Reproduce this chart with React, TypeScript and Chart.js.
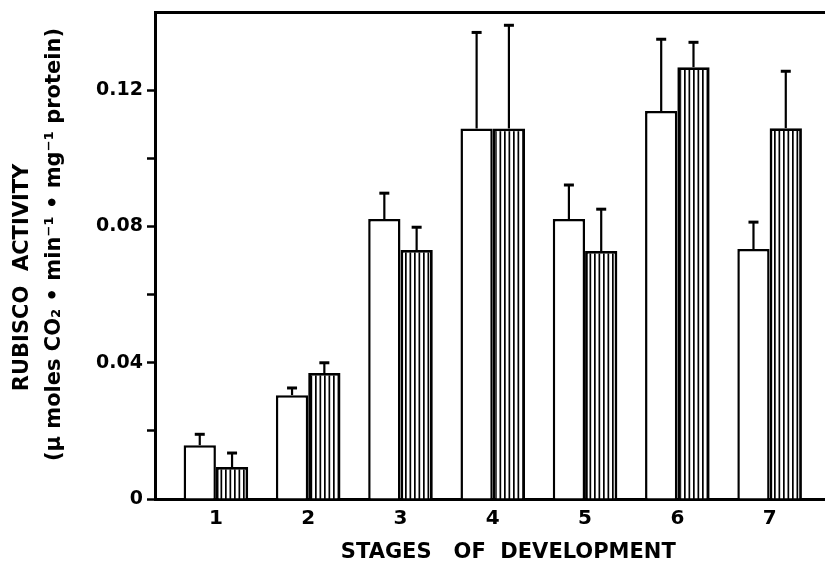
import React, { useEffect, useRef } from "react";
import { Chart, registerables } from "chart.js";

Chart.register(...registerables);

const stages = ["1", "2", "3", "4", "5", "6", "7"];
const openValues = [0.0158, 0.0305, 0.0822, 0.1088, 0.0822, 0.1139, 0.0734];
const openErrors = [0.0032, 0.0021, 0.0076, 0.0282, 0.01, 0.0211, 0.0079];
const hatchedValues = [0.0094, 0.037, 0.0731, 0.1088, 0.0728, 0.1268, 0.1089];
const hatchedErrors = [0.0041, 0.003, 0.0067, 0.0303, 0.0123, 0.0073, 0.0167];
const yTickValues = [0, 0.02, 0.04, 0.06, 0.08, 0.1, 0.12];
const yLabelValues = [0, 0.04, 0.08, 0.12];
const yTitle = ["RUBISCO  ACTIVITY      ", "   (µ moles CO₂ • min⁻¹ • mg⁻¹ protein)"];
const xTitle = "     STAGES   OF  DEVELOPMENT";

function makeStripePattern(): CanvasPattern | string {
  const c = document.createElement("canvas");
  c.width = 9;
  c.height = 9;
  const ctx = c.getContext("2d");
  if (!ctx) return "#888";
  ctx.fillStyle = "#ffffff";
  ctx.fillRect(0, 0, 9, 9);
  ctx.fillStyle = "#000000";
  ctx.fillRect(0, 0, 1.7, 9);
  ctx.fillRect(4.5, 0, 1.7, 9);
  return ctx.createPattern(c, "repeat") || "#888";
}

const errorBarPlugin = {
  id: "errorBars",
  afterDatasetsDraw(chart: any) {
    const ctx = chart.ctx;
    const yScale = chart.scales.y;
    const sets = [
      { v: openValues, e: openErrors },
      { v: hatchedValues, e: hatchedErrors },
    ];
    ctx.save();
    ctx.strokeStyle = "#000";
    ctx.lineCap = "butt";
    sets.forEach((s, i) => {
      const meta = chart.getDatasetMeta(i);
      meta.data.forEach((bar: any, j: number) => {
        const x = bar.x;
        const yTop = yScale.getPixelForValue(s.v[j]);
        const yCap = yScale.getPixelForValue(s.v[j] + s.e[j]);
        ctx.lineWidth = 2.2;
        ctx.beginPath();
        ctx.moveTo(x, yTop);
        ctx.lineTo(x, yCap);
        ctx.stroke();
        ctx.lineWidth = 3;
        ctx.beginPath();
        ctx.moveTo(x - 5, yCap);
        ctx.lineTo(x + 5, yCap);
        ctx.stroke();
      });
    });
    ctx.restore();
  },
};

export default function App() {
  const ref = useRef<HTMLCanvasElement | null>(null);
  useEffect(() => {
    if (!ref.current) return;
    const pattern = makeStripePattern();
    const font = { family: "DejaVu Sans", weight: "bold" as const };
    const chart = new Chart(ref.current, {
      type: "bar",
      data: {
        datasets: [
          {
            label: "open",
            data: openValues.map((v, i) => ({ x: i + 1, y: v })),
            backgroundColor: "#ffffff",
            borderColor: "#000000",
            borderWidth: 2.5,
            borderSkipped: "bottom",
            xAxisID: "x",
          },
          {
            label: "hatched",
            data: hatchedValues.map((v, i) => ({ x: i + 1, y: v })),
            backgroundColor: pattern as any,
            borderColor: "#000000",
            borderWidth: 2.8,
            borderSkipped: "bottom",
            xAxisID: "x",
          },
        ],
      },
      options: {
        responsive: false,
        animation: false,
        devicePixelRatio: 1,
        categoryPercentage: 0.7,
        barPercentage: 1.0,
        layout: { padding: 0 },
        plugins: {
          legend: { display: false },
          tooltip: { enabled: false },
        },
        scales: {
          x: {
            type: "linear",
            position: "bottom",
            offset: false,
            min: 0.34,
            max: 7.6,
            grid: { display: false },
            border: { display: true, color: "#000", width: 3 },
            afterBuildTicks: (axis: any) => {
              axis.ticks = stages.map((_, i) => ({ value: i + 1 }));
            },
            afterFit: (axis: any) => {
              axis.height = 66;
              axis.paddingLeft = 0;
              axis.paddingRight = 0;
            },
            ticks: {
              color: "#000",
              padding: 0,
              font: { ...font, size: 20 },
              callback: (v: any) => stages[Math.round(Number(v)) - 1] ?? "",
              maxRotation: 0,
              autoSkip: false,
            },
            title: {
              display: true,
              text: xTitle,
              color: "#000",
              font: { ...font, size: 21 },
              padding: { top: 0, bottom: 0 },
            },
          },
          x2: {
            type: "linear",
            position: "top",
            offset: false,
            min: 0.34,
            max: 7.6,
            grid: { display: false },
            ticks: { display: false },
            border: { display: true, color: "#000", width: 3 },
            afterFit: (axis: any) => {
              axis.height = 12;
            },
          },
          y: {
            min: 0,
            max: 0.143,
            grid: {
              drawOnChartArea: false,
              drawTicks: true,
              tickLength: 8,
              tickWidth: 2.5,
              color: "#000",
            },
            border: { display: true, color: "#000", width: 3 },
            afterBuildTicks: (axis: any) => {
              axis.ticks = yTickValues.map((v) => ({ value: v }));
            },
            afterFit: (axis: any) => {
              axis.width = 155;
              axis.paddingTop = 0;
              axis.paddingBottom = 0;
            },
            ticks: {
              color: "#000",
              padding: 4,
              font: { ...font, size: 19 },
              callback: (v: any) => {
                const n = Number(v);
                const hit = yLabelValues.find((t) => Math.abs(t - n) < 1e-6);
                if (hit === undefined) return "";
                return hit === 0 ? "0" : hit.toFixed(2);
              },
            },
            title: {
              display: true,
              text: yTitle,
              color: "#000",
              font: { ...font, size: 21, lineHeight: 1.52 },
              padding: { top: 7, bottom: 0 },
            },
          },
        },
      },
      plugins: [errorBarPlugin],
    });
    return () => chart.destroy();
  }, []);
  return (
    <div style={{ position: "fixed", left: 0, top: 0, width: 825, height: 565, background: "#fff" }}>
      <canvas ref={ref} width={825} height={565} />
    </div>
  );
}
